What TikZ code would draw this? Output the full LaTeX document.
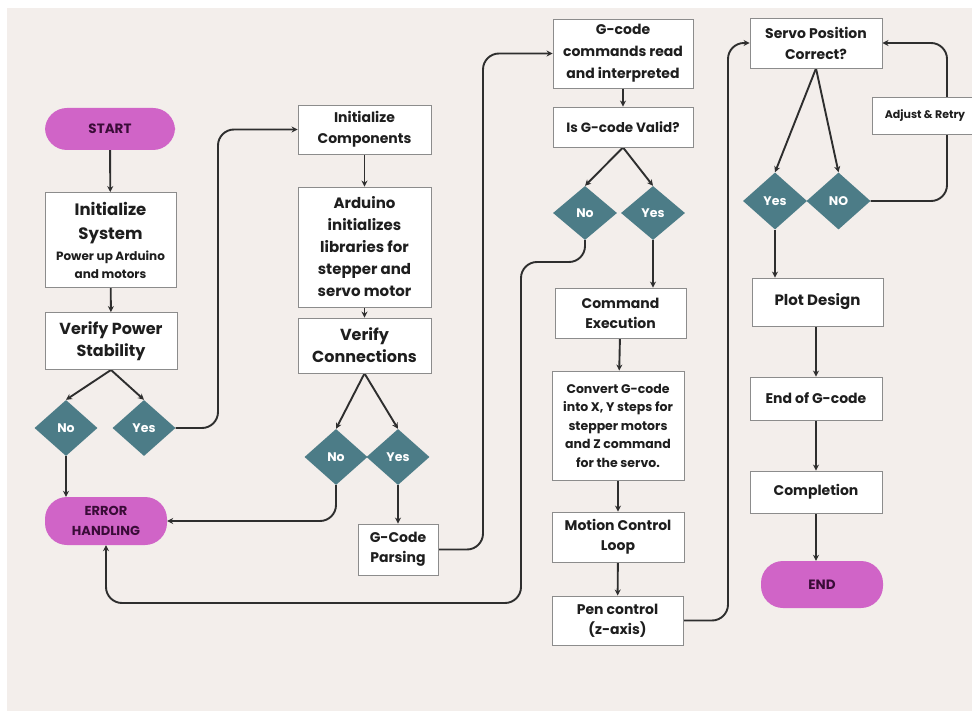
\documentclass[tikz,border=0pt]{standalone}
\usepackage{fontspec}
\setmainfont{Poppins}
\usetikzlibrary{shapes.geometric,arrows.meta,calc}
\pgfdeclarelayer{bg}
\pgfsetlayers{bg,main}
\definecolor{bgc}{HTML}{F3EEEB}
\definecolor{pillc}{HTML}{D064C7}
\definecolor{pilltext}{HTML}{3A0C38}
\definecolor{diac}{HTML}{4C7C87}
\definecolor{boxline}{HTML}{8C8C8C}
\definecolor{linec}{HTML}{2E2E2E}
\definecolor{txtc}{HTML}{1E1E1E}
\newcommand{\fs}[2]{\fontsize{#1}{#2}\selectfont\bfseries}
\tikzset{
  box/.style={draw=boxline, line width=0.9pt, fill=white, align=center, text=txtc, inner sep=2pt},
  pill/.style={fill=pillc, rounded corners=22pt, align=center, text=pilltext, inner sep=2pt},
  dia/.style={diamond, fill=diac, text=white, inner sep=0pt, minimum width=63pt, minimum height=56pt, font=\fs{12.5}{15}},
  conn/.style={draw=linec, line width=1.9pt, rounded corners=16pt, -{Stealth[length=6pt,width=6pt]}},
}
\begin{document}
\begin{tikzpicture}[x=1pt,y=-1pt]
\useasboundingbox (0,0) rectangle (972,711);

% column 1
\node[pill, minimum width=130pt, minimum height=42pt, font=\fs{13.5}{16}] (start) at (110,129) {START};
\node[box, minimum width=131pt, minimum height=95pt, font=\fs{16.5}{24}] (initsys) at (110.5,240)
  {Initialize\\System\\[-3pt]\fs{12}{18}Power up Arduino\\[-6pt]\fs{12}{18}and motors};
\node[box, minimum width=132pt, minimum height=57pt, font=\fs{16}{22}] (vps) at (111,341) {Verify Power\\Stability};
\node[dia] (d1no) at (66,428) {No};
\node[dia] (d1yes) at (144,428) {Yes};
\node[pill, minimum width=122pt, minimum height=48pt, font=\fs{13}{20}] (err) at (106,521) {ERROR\\HANDLING};

% column 2
\node[box, minimum width=133pt, minimum height=49pt, font=\fs{14}{21}] (initcomp) at (364.5,129.5) {Initialize\\Components};
\node[box, minimum width=133pt, minimum height=120pt, font=\fs{15}{22}] (arduino) at (364.5,247) {Arduino\\initializes\\libraries for\\stepper and\\servo motor};
\node[box, minimum width=133pt, minimum height=55pt, font=\fs{16}{22}] (vconn) at (364.5,345.5) {Verify\\Connections};
\node[dia] (d2no) at (336,457) {No};
\node[dia] (d2yes) at (398,457) {Yes};
\node[box, minimum width=80pt, minimum height=51pt, font=\fs{14}{20}] (gparse) at (398,549.5) {G-Code\\Parsing};

% column 3
\node[box, minimum width=140pt, minimum height=69pt, font=\fs{14}{22}] (gcmd) at (623,53.5) {G-code\\commands read\\and interpreted};
\node[box, minimum width=140pt, minimum height=40pt, font=\fs{13.5}{16}] (valid) at (623,127) {Is G-code Valid?};
\node[dia, minimum width=64pt, minimum height=54pt] (d3no) at (585,213) {No};
\node[dia, minimum width=64pt, minimum height=54pt] (d3yes) at (653,213) {Yes};
\node[box, minimum width=131pt, minimum height=50pt, font=\fs{14}{20}] (cmdexec) at (620.5,313) {Command\\Execution};
\node[box, minimum width=132pt, minimum height=109pt, font=\fs{12.5}{18.5}] (convert) at (618,425.5) {Convert G-code\\into X, Y steps for\\stepper motors\\and Z command\\for the servo.};
\node[box, minimum width=132pt, minimum height=50pt, font=\fs{14}{20}] (motion) at (618,537) {Motion Control\\Loop};
\node[box, minimum width=131pt, minimum height=49pt, font=\fs{14}{20}] (pen) at (617.5,620.5) {Pen control\\(z-axis)};

% column 4
\node[box, minimum width=132pt, minimum height=50pt, font=\fs{14}{21}] (servo) at (816,43) {Servo Position\\Correct?};
\node[box, minimum width=106pt, minimum height=37pt, font=\fs{11}{13}] (adjust) at (925,115.5) {Adjust \& Retry};
\node[dia, minimum width=64pt, minimum height=57pt] (d4yes) at (775,201) {Yes};
\node[dia, minimum width=64pt, minimum height=57pt] (d4no) at (838.5,201) {NO};
\node[box, minimum width=131pt, minimum height=48pt, font=\fs{15}{18}] (plot) at (817.5,302) {Plot Design};
\node[box, minimum width=132pt, minimum height=43pt, font=\fs{14}{17}] (endg) at (816,398.5) {End of G-code};
\node[box, minimum width=132pt, minimum height=42pt, font=\fs{14}{17}] (compl) at (816,492) {Completion};
\node[pill, minimum width=122pt, minimum height=47pt, font=\fs{13.5}{16}] (endp) at (822,584.5) {END};

% helper coordinates
\coordinate (c1) at (218,300);
\coordinate (c2) at (483,300);
\coordinate (c3) at (521,262);
\coordinate (c4) at (521,603);
\coordinate (c5) at (728,300);
\coordinate (c6) at (947,116);

\begin{pgfonlayer}{bg}
\fill[white] (0,0) rectangle (972,711);
\fill[bgc] (7,8) rectangle (972,711);

\draw[conn] (start) -- (initsys);
\draw[conn] (initsys) -- (vps);
\draw[conn] (vps.south) -- (d1no.north);
\draw[conn] (vps.south) -- (d1yes.north);
\draw[conn] (d1no.south) -- (d1no.south |- err.north);
\draw[conn] (d1yes.east) -| (c1) |- (initcomp.west);

\draw[conn] (initcomp) -- (arduino);
\draw[conn] (arduino) -- (vconn);
\draw[conn] (vconn.south) -- (d2no.north);
\draw[conn] (vconn.south) -- (d2yes.north);
\draw[conn] (d2no.south) |- (err.east);
\draw[conn] (d2yes) -- (gparse);
\draw[conn] (gparse.east) -| (c2) |- (gcmd.west);

\draw[conn] (gcmd) -- (valid);
\draw[conn] (valid.south) -- (d3no.north);
\draw[conn] (valid.south) -- (d3yes.north);
\draw[conn] (d3yes.south) -- (d3yes.south |- cmdexec.north);
\draw[conn] (d3no.south) |- (c3) -- (c4) -| (err.south);
\draw[conn] (cmdexec) -- (convert);
\draw[conn] (convert) -- (motion);
\draw[conn] (motion) -- (pen);
\draw[conn] (pen.east) -| (c5) |- (servo.west);

\draw[conn] (servo.south) -- (d4yes.north);
\draw[conn] (servo.south) -- (d4no.north);
\draw[conn] (d4no.east) -| (c6) |- (servo.east);
\draw[conn] (d4yes.south) -- (d4yes.south |- plot.north);
\draw[conn] (plot.south -| endg.north) -- (endg.north);
\draw[conn] (endg) -- (compl);
\draw[conn] (compl.south) -- (compl.south |- endp.north);
\end{pgfonlayer}
\end{tikzpicture}
\end{document}
